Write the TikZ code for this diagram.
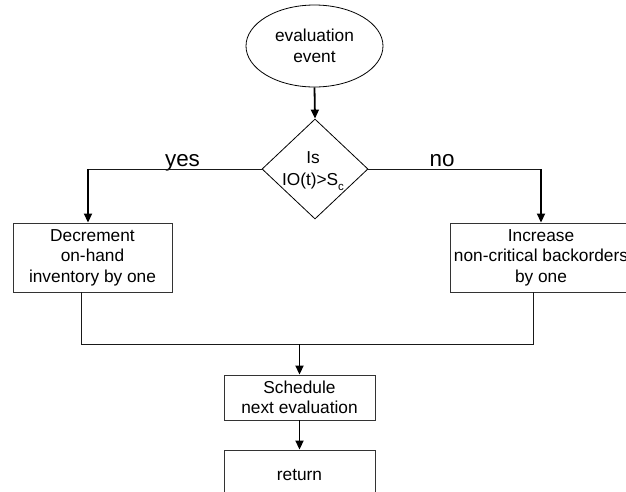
\documentclass[tikz,border=0pt]{standalone}
\usepackage{fontspec}
\setmainfont{Liberation Sans}
\usetikzlibrary{shapes.geometric,arrows.meta}
\tikzset{
  txt/.style={font=\fontsize{17.3}{20.5}\selectfont, align=center},
  boxnode/.style={draw=black!80, line width=0.9pt, rectangle, inner sep=0pt, txt},
  startnode/.style={draw=black, line width=0.8pt, ellipse, inner sep=0pt, minimum width=137pt, minimum height=82pt, txt},
  decision/.style={draw=black, line width=0.8pt, diamond, inner sep=0pt, minimum width=106pt, minimum height=100pt},
  flow/.style={line width=1.8pt, -{Triangle[length=9pt,width=8pt]}},
  plain/.style={line width=0.9pt, draw=black!90},
  branch/.style={font=\fontsize{22.4}{24}\selectfont, anchor=base, inner sep=0pt}
}
\begin{document}
\begin{tikzpicture}[x=1pt,y=-1pt]
\useasboundingbox (0,0) rectangle (626,491);
\node[startnode] (ev) at (314.5,46) {evaluation\\event};
\node[decision] (d) at (315,169) {};
\node[txt, inner sep=0pt] (dtext) at (313,171) {Is\\[2pt]IO(t)>S\raisebox{-4.5pt}{\fontsize{11.5}{12}\selectfont c}};
\node[boxnode, minimum width=159pt, minimum height=69pt] (L) at (92.5,257.5) {Decrement\\on-hand\\inventory by one};
\node[boxnode, minimum width=182pt, minimum height=69pt] (R) at (541,257.5) {Increase\\non-critical backorders\\by one};
\node[boxnode, minimum width=151pt, minimum height=45pt] (S) at (299.5,397.5) {Schedule\\next evaluation};
\node[boxnode, minimum width=151pt, minimum height=50pt] (Ret) at (299.5,475) {return};
\coordinate (yl) at (88,169);
\coordinate (nr) at (541,169);
\coordinate (ml) at (81,344);
\coordinate (mr) at (533,344);
\coordinate (mm) at (299.5,344);
\node[branch] (yes) at (182.5,166) {yes};
\node[branch] (no) at (442,166) {no};
\draw[flow] (ev.south) -- (d.north);
\draw[plain] (d.west) -- (yl);
\draw[flow] (yl) -- (yl |- L.north);
\draw[plain] (d.east) -- (nr);
\draw[flow] (nr) -- (R.north);
\draw[plain] (ml |- L.south) -- (ml) -- (mr) -- (mr |- R.south);
\draw[flow] (mm) -- (S.north);
\draw[flow] (S.south) -- (Ret.north);
\end{tikzpicture}
\end{document}
